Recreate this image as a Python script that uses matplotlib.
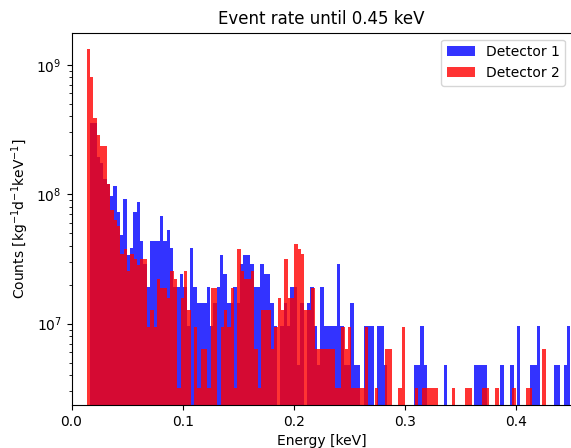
import numpy as np
import matplotlib
matplotlib.use("Agg")
import matplotlib.pyplot as plt

# ---- data (counts per bin) ----
det2_counts = [417, 253, 122, 91, 75, 75, 38, 24, 20, 18, 11, 12, 8, 11, 10, 9, 10, 10, 3, 4, 3, 7, 6, 6,
               5, 8, 7, 1, 5, 8, 4, 0, 3, 1, 2, 2, 1, 6, 6, 0, 3, 4, 3, 6, 1, 12, 8, 7,
               7, 8, 2, 1, 4, 4, 4, 2, 3, 5, 4, 10, 5, 5, 13, 12, 11, 4, 4, 6, 2, 2, 2, 2, 2,
               2, 1, 1, 3, 2, 3, 1, 1, 1, 1, 3, 0, 0, 1, 0, 0, 2, 2, 0, 0, 1, 3, 0, 0, 0,
               1, 0, 1, 1, 1, 1, 1, 0, 0, 0, 0, 1, 0, 0, 0, 1, 1, 0, 0, 0, 1, 1, 0, 0, 1,
               0, 0, 0, 0, 1, 0, 0, 0, 1, 1, 0, 0, 0, 2, 0, 0, 0, 0, 0, 0, 0, 0]
det1_counts = [73, 73, 40, 36, 27, 25, 20, 24, 15, 10, 19, 7, 8, 15, 18, 9, 6, 4, 9, 9, 9, 14, 9,
               11, 8, 4, 4, 5, 4, 2, 8, 4, 3, 3, 3, 4, 2, 3, 4, 7, 5, 3, 3, 4, 3, 6, 7,
               7, 6, 4, 4, 6, 5, 5, 3, 2, 0, 2, 3, 2, 4, 4, 1, 3, 0, 3, 4, 2, 1, 4, 2, 2,
               2, 2, 6, 2, 1, 1, 3, 1, 1, 0, 2, 2, 2, 0, 2, 2, 1, 0, 0, 0, 0, 0, 0, 0, 0,
               1, 1, 2, 1, 0, 0, 0, 0, 0, 1, 0, 0, 0, 0, 0, 0, 0, 0, 1, 1, 1, 1, 0, 0, 0,
               0, 1, 0, 0, 1, 0, 2, 0, 0, 0, 1, 1, 2, 0, 0, 0, 0, 1, 1, 0, 1, 2, 0]

det1_bin_start, det1_bin_width = 0.01664, 0.003     # keV
det2_bin_start, det2_bin_width = 0.01367, 0.003012  # keV
det1_rate_per_count = 4.82e6   # kg^-1 d^-1 keV^-1
det2_rate_per_count = 3.16e6

labels = ["Detector 1", "Detector 2"]
colors = ["blue", "red"]
x_ticks = [0.0, 0.1, 0.2, 0.3, 0.4]

# ---- figure ----
W, H = 571, 448
fig = plt.figure(figsize=(W / 100, H / 100), dpi=100)
ax = fig.add_axes([71.5 / W, (H - 405) / H, (572 - 71.5) / W, (405 - 32.7) / H])

for counts, start, width, unit, lab, col in [
    (det1_counts, det1_bin_start, det1_bin_width, det1_rate_per_count, labels[0], colors[0]),
    (det2_counts, det2_bin_start, det2_bin_width, det2_rate_per_count, labels[1], colors[1]),
]:
    c = np.asarray(counts, dtype=float)
    edges = start + width * np.arange(len(c) + 1)
    centers = 0.5 * (edges[:-1] + edges[1:])
    ax.hist(centers, bins=edges, weights=c * unit, color=col, alpha=0.8, label=lab)

ax.set_yscale("log")
ax.set_xlim(0, 0.45)
ax.set_ylim(2.35e6, 1.77e9)
ax.set_xticks(x_ticks)
ax.set_xticklabels([f"{t:.1f}" for t in x_ticks])
ax.set_title("Event rate until 0.45 keV", fontsize=12)
ax.set_xlabel("Energy [keV]", fontsize=10)
ax.set_ylabel("Counts [kg$^{-1}$d$^{-1}$keV$^{-1}$]", fontsize=10)
ax.legend(loc="upper right", fontsize=10)

fig.savefig("out.png", dpi=100)
